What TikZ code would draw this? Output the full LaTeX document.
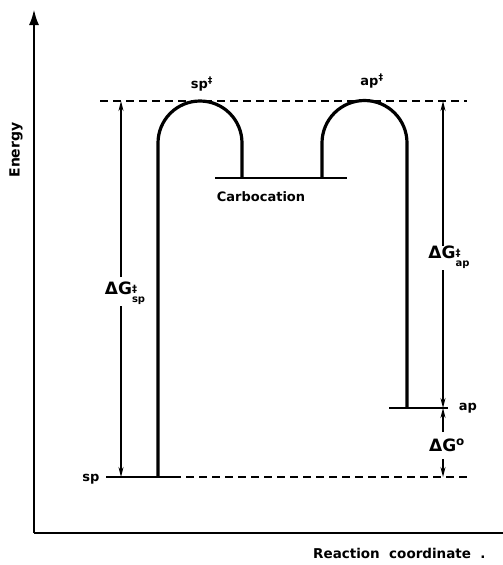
\documentclass[tikz,border=0pt]{standalone}
\usepackage{fontspec}
\setmainfont{DejaVu Sans}
\usetikzlibrary{arrows.meta}
\newcommand{\supsub}[2]{\raisebox{-0.9ex}{\fontsize{10}{9}\selectfont\shortstack[l]{#1\\#2}}}
\begin{document}
\begin{tikzpicture}[x=1pt,y=-1pt,
  axisline/.style={line width=2.6pt},
  curveline/.style={line width=3.2pt},
  levelline/.style={line width=2.2pt},
  dashline/.style={line width=2.2pt, dash pattern=on 8pt off 5pt},
  dimline/.style={line width=1.4pt, -{Stealth[length=10pt,width=5pt]}},
  lbl/.style={font=\bfseries\fontsize{13}{13}\selectfont, inner sep=0pt},
  biglbl/.style={font=\bfseries\fontsize{17}{17}\selectfont, inner sep=1pt},
]
\useasboundingbox (0,0) rectangle (503,565);
% axes
\coordinate (O) at (34,533);
\coordinate (Ytop) at (34,9);
\coordinate (Xend) at (503,533);
\draw[axisline] (O) -- (Xend);
\draw[axisline, -{Latex[length=16pt,width=10pt]}] (O) -- (Ytop);
\node[lbl, font=\bfseries\fontsize{14}{14}\selectfont, rotate=90] (energy) at (16,150) {Energy};
\node[lbl, font=\bfseries\fontsize{13.5}{14}\selectfont, anchor=west] (rc) at (313,553) {Reaction\ \ coordinate\ \ .};
% dashed reference lines
\coordinate (dTa) at (100,101);
\coordinate (dTb) at (467,101);
\coordinate (dBa) at (173,477);
\coordinate (dBb) at (470,477);
\draw[dashline] (dTa) -- (dTb);
\draw[dashline] (dBa) -- (dBb);
% energy profile
\coordinate (sp0) at (106,477);
\coordinate (sp1) at (158,477);
\coordinate (spend) at (173,477);
\draw[levelline] (sp0) -- (spend);
\draw[curveline] (sp1) -- (158,143) arc[start angle=180, end angle=360, radius=42] -- (242,178);
\coordinate (c0) at (215,178);
\coordinate (c1) at (347,178);
\draw[levelline] (c0) -- (c1);
\draw[curveline] (322,178) -- (322,143) arc[start angle=180, end angle=360, radius=42.5] -- (407,408);
\coordinate (ap0) at (389,408);
\coordinate (ap1) at (448,408);
\draw[levelline] (ap0) -- (ap1);
% labels
\node[lbl] (spTS) at (202,84) {sp\textsuperscript{‡}};
\node[lbl] (apTS) at (372,81) {ap\textsuperscript{‡}};
\node[lbl] (carbo) at (261,197) {Carbocation};
\node[lbl] (sp) at (91,479) {sp};
\node[lbl] (ap) at (468,408) {ap};
% dimension arrows
\node[biglbl] (dGsp) at (125,293) {ΔG\supsub{‡}{sp}};
\coordinate (Lt) at (121,101);
\coordinate (Lb) at (121,477);
\draw[dimline] (121,277) -- (Lt);
\draw[dimline] (121,306) -- (Lb);
\node[biglbl] (dGap) at (449,257) {ΔG\supsub{‡}{ap}};
\coordinate (Rt) at (443,101);
\coordinate (Rm) at (443,408);
\draw[dimline] (443,246) -- (Rt);
\draw[dimline] (443,270) -- (Rm);
\node[biglbl] (dG0) at (447,445) {ΔG\textsuperscript{o}};
\coordinate (Rb) at (443,477);
\draw[dimline] (443,432) -- (Rm);
\draw[dimline] (443,459) -- (Rb);
\end{tikzpicture}
\end{document}
